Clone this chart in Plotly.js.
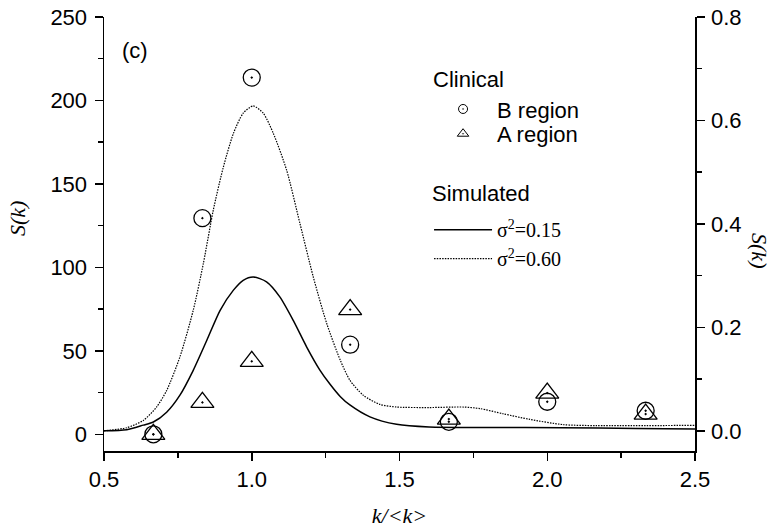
<!DOCTYPE html>
<html>
<head>
<meta charset="utf-8">
<script src="https://cdn.plot.ly/plotly-3.0.1.min.js"></script>
<style>html,body{margin:0;padding:0;background:#fff;}#chart{width:776px;height:529px;}</style>
</head>
<body>
<div id="chart"></div>
<script>
// Clinical data (left axis)
var kClinical = [0.667, 0.833, 1.0, 1.333, 1.667, 2.0, 2.333];
var bRegion = [0, 129.5, 213.7, 53.7, 7.5, 19.5, 14.1];
var aRegion = [0, 19.1, 43.7, 74.7, 9.1, 24.7, 12.1];

// Simulated curves (right axis)
var kSim015 = [0.50, 0.577, 0.633, 0.667, 0.712, 0.757, 0.802, 0.848, 0.893, 0.938, 0.971, 1.005, 1.05, 1.095, 1.14, 1.186, 1.23, 1.265, 1.30, 1.332, 1.40, 1.49, 1.60, 1.80, 2.05, 2.30, 2.50];
var sim015 = [0.000, 0.002, 0.011, 0.017, 0.036, 0.069, 0.117, 0.175, 0.233, 0.272, 0.291, 0.2975, 0.288, 0.259, 0.214, 0.162, 0.118, 0.090, 0.066, 0.050, 0.027, 0.0126, 0.0074, 0.0065, 0.006, 0.0045, 0.0035];
var kSim060 = [0.50, 0.577, 0.633, 0.678, 0.712, 0.757, 0.802, 0.836, 0.87, 0.904, 0.938, 0.971, 1.005, 1.039, 1.073, 1.118, 1.163, 1.208, 1.254, 1.30, 1.332, 1.377, 1.434, 1.49, 1.60, 1.716, 1.772, 1.851, 1.942, 2.054, 2.167, 2.50];
var sim060 = [0.000, 0.006, 0.020, 0.046, 0.078, 0.143, 0.233, 0.323, 0.427, 0.510, 0.575, 0.614, 0.628, 0.614, 0.575, 0.504, 0.401, 0.298, 0.207, 0.136, 0.098, 0.069, 0.051, 0.046, 0.045, 0.046, 0.043, 0.033, 0.022, 0.012, 0.010, 0.0106];

var seriesNames = ['B region', 'A region', '\u03c3<sup>2</sup>=0.15', '\u03c3<sup>2</sup>=0.60'];
var groupTitles = ['Clinical', 'Simulated'];
var panelLabel = '(c)';

var sans = 'Liberation Sans, Arial, sans-serif';
var serif = 'Liberation Serif, Times New Roman, serif';

var traces = [
  {x: kSim015, y: sim015, yaxis: 'y2', mode: 'lines', name: seriesNames[2], legend: 'legend2',
   line: {color: '#000', width: 1.5, shape: 'spline', smoothing: 0.7}},
  {x: kSim060, y: sim060, yaxis: 'y2', mode: 'lines', name: seriesNames[3], legend: 'legend2',
   line: {color: '#000', width: 1.2, dash: '1.5px,1.2px', shape: 'spline', smoothing: 0.7}},
  {x: kClinical, y: bRegion, mode: 'markers', name: seriesNames[0], showlegend: false,
   marker: {symbol: 'circle-open-dot', size: 17, color: '#000', line: {color: '#000', width: 1.3}}},
  {x: kClinical, y: aRegion, mode: 'markers', name: seriesNames[1], showlegend: false,
   marker: {symbol: 'triangle-up-open-dot', size: 20, color: '#000', line: {color: '#000', width: 1.3}}},
  {x: [null], y: [null], mode: 'markers', name: seriesNames[0], legend: 'legend',
   marker: {symbol: 'circle-open-dot', size: 9, color: '#000', line: {color: '#000', width: 1}}},
  {x: [null], y: [null], mode: 'markers', name: seriesNames[1], legend: 'legend3',
   marker: {symbol: 'triangle-up-open-dot', size: 10, color: '#000', line: {color: '#000', width: 1}}}
];

var axisCommon = {
  tickcolor: '#000', tickwidth: 1.5, ticklen: 8,
  showline: true, linewidth: 1.5, linecolor: '#000', showgrid: false, zeroline: false
};

var layout = {
  width: 776, height: 529,
  margin: {l: 104, r: 81, t: 17, b: 78},
  paper_bgcolor: '#fff', plot_bgcolor: '#fff',
  font: {family: sans, size: 22, color: '#000'},
  showlegend: true,
  xaxis: Object.assign({}, axisCommon, {
    range: [0.5, 2.5], tick0: 0.5, dtick: 0.5, tickformat: '.1f', ticks: 'outside',
    minor: {ticks: 'outside', ticklen: 5, dtick: 0.25, tickwidth: 1.5, tickcolor: '#000'},
    tickfont: {family: sans, size: 22},
    title: {text: '<i>k/&lt;k&gt;</i>', font: {family: serif, size: 22}, standoff: 16}
  }),
  xaxis2: Object.assign({}, axisCommon, {
    overlaying: 'x', side: 'top', matches: 'x', range: [0.5, 2.5], tick0: 0.5, dtick: 0.5,
    ticks: 'inside',
    minor: {ticks: 'inside', ticklen: 5, dtick: 0.25, tickwidth: 1.5, tickcolor: '#000'},
    showticklabels: false
  }),
  yaxis: Object.assign({}, axisCommon, {
    range: [-10, 250], tick0: 0, dtick: 50, ticks: 'outside', ticklabelstandoff: 3,
    minor: {ticks: 'outside', ticklen: 5, dtick: 25, tickwidth: 1.5, tickcolor: '#000'},
    tickfont: {family: sans, size: 22}
  }),
  yaxis2: Object.assign({}, axisCommon, {
    overlaying: 'y', side: 'right', range: [-0.039, 0.8], tick0: 0, dtick: 0.2, tickformat: '.1f',
    ticks: 'outside', ticklabelstandoff: 2,
    minor: {ticks: 'outside', ticklen: 5, dtick: 0.1, tickwidth: 1.5, tickcolor: '#000'},
    tickfont: {family: sans, size: 22}
  }),
  legend: {
    x: 0.55, y: 0.836, xanchor: 'left', yanchor: 'top', bgcolor: 'rgba(0,0,0,0)',
    font: {family: sans, size: 22}, itemwidth: 58
  },
  legend3: {
    x: 0.55, y: 0.779, xanchor: 'left', yanchor: 'top', bgcolor: 'rgba(0,0,0,0)',
    font: {family: sans, size: 22}, itemwidth: 58
  },
  legend2: {
    x: 0.55, y: 0.555, xanchor: 'left', yanchor: 'top', bgcolor: 'rgba(0,0,0,0)',
    font: {family: serif, size: 20}, itemwidth: 58, tracegroupgap: 0
  },
  annotations: [
    {text: panelLabel, xref: 'paper', yref: 'paper', x: 0.052, y: 0.922, xanchor: 'center', yanchor: 'middle',
     showarrow: false, font: {family: sans, size: 22}},
    {text: groupTitles[0], xref: 'paper', yref: 'paper', x: 0.5533, y: 0.857, xanchor: 'left', yanchor: 'middle',
     showarrow: false, font: {family: sans, size: 22}},
    {text: groupTitles[1], xref: 'paper', yref: 'paper', x: 0.5516, y: 0.594, xanchor: 'left', yanchor: 'middle',
     showarrow: false, font: {family: sans, size: 22}},
    {text: '<i>S(k)</i>', xref: 'paper', yref: 'paper', x: -0.1455, y: 0.5346, xanchor: 'center', yanchor: 'middle',
     textangle: -90, showarrow: false, font: {family: serif, size: 22}},
    {text: '<i>S(k)</i>', xref: 'paper', yref: 'paper', x: 1.11, y: 0.463, xanchor: 'center', yanchor: 'middle',
     textangle: 90, showarrow: false, font: {family: serif, size: 22}}
  ]
};

Plotly.newPlot('chart', traces, layout, {displayModeBar: false, staticPlot: true});
</script>
</body>
</html>
